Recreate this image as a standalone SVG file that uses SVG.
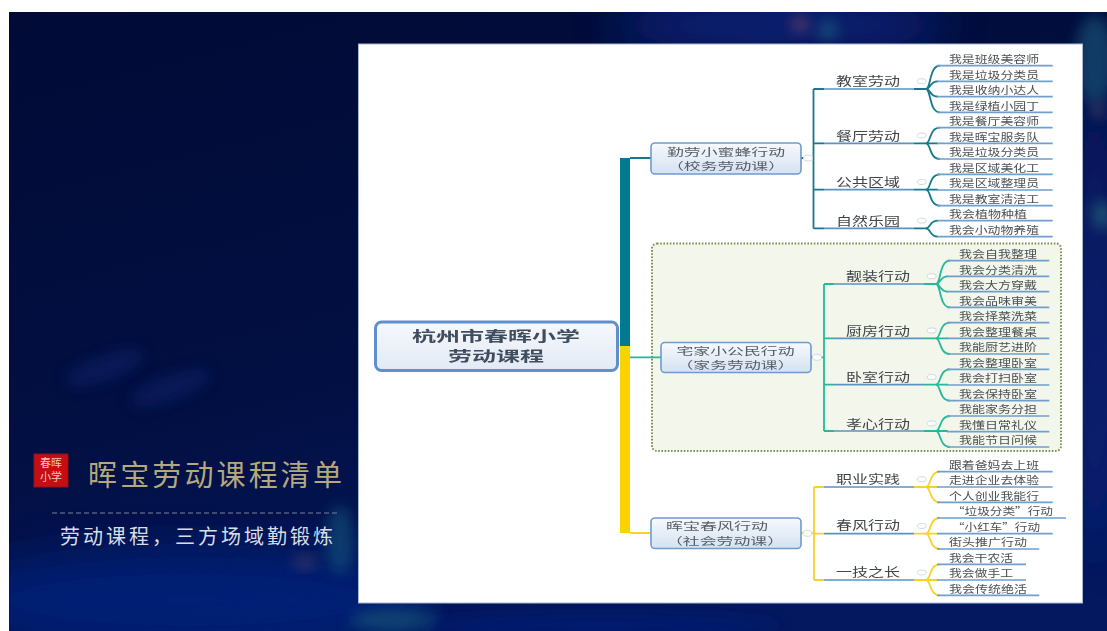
<svg xmlns="http://www.w3.org/2000/svg" width="1107" height="631" viewBox="0 0 1107 631">
<style>
text{font-family:"Noto Sans CJK SC","Noto Sans",sans-serif;}
.leaf{font-size:10.5px;fill:#4a4f55;}
.cat{font-size:12px;fill:#3f444a;}
.nd{font-size:10.2px;fill:#565c63;}
.rt{font-size:14px;font-weight:700;fill:#3f4d5e;}
.box{fill:url(#nodeFill);stroke:#6f9bce;stroke-width:1.6;}
.dot{fill:#fff;stroke:#cdd8de;stroke-width:1;}
.leafline{fill:none;stroke:#6f9fcd;stroke-width:1.7;}
.catline{fill:none;stroke:#5b93c2;stroke-width:1.7;}
.teal{fill:none;stroke:#14788a;stroke-width:1.8;}
.mint{fill:none;stroke:#25b89a;stroke-width:1.8;}
.gold{fill:none;stroke:#f6d327;stroke-width:1.8;}
</style>
<defs>
<linearGradient id="bg" x1="0" y1="0" x2="0.45" y2="1"><stop offset="0" stop-color="#010b36"/><stop offset="0.6" stop-color="#020f42"/><stop offset="1" stop-color="#03185e"/></linearGradient>
<linearGradient id="nodeFill" x1="0" y1="0" x2="0" y2="1"><stop offset="0" stop-color="#f7f9fd"/><stop offset="1" stop-color="#d4e2f2"/></linearGradient>
<linearGradient id="rootFill" x1="0" y1="0" x2="0" y2="1"><stop offset="0" stop-color="#f6f8fc"/><stop offset="1" stop-color="#e2eaf5"/></linearGradient>
<filter id="b30" x="-50%" y="-50%" width="200%" height="200%"><feGaussianBlur stdDeviation="22"/></filter>
<filter id="b8" x="-50%" y="-50%" width="200%" height="200%"><feGaussianBlur stdDeviation="7"/></filter>
<filter id="soft" x="-2%" y="-2%" width="104%" height="104%"><feGaussianBlur stdDeviation="0.35"/></filter>
</defs>
<rect width="1107" height="631" fill="#fff"/>
<svg x="9" y="12" width="1098" height="619" viewBox="9 12 1098 619">
<rect x="9" y="12" width="1098" height="619" fill="url(#bg)"/>
<g id="background-glow">
<ellipse cx="780" cy="25" rx="170" ry="28" fill="#082586" opacity="0.8" filter="url(#b30)"/>
<ellipse cx="1095" cy="320" rx="24" ry="240" fill="#08207a" opacity="0.8" filter="url(#b30)"/>
<ellipse cx="1095" cy="60" rx="20" ry="45" fill="#164f74" opacity="0.7" filter="url(#b8)"/>
<ellipse cx="1102" cy="215" rx="9" ry="14" fill="#267a80" opacity="0.6" filter="url(#b8)"/>
<ellipse cx="1098" cy="110" rx="8" ry="8" fill="#5a4a70" opacity="0.6" filter="url(#b8)"/>
<ellipse cx="800" cy="24" rx="8" ry="8" fill="#7a4868" opacity="0.7" filter="url(#b8)"/>
<ellipse cx="828" cy="30" rx="10" ry="10" fill="#1f6a80" opacity="0.6" filter="url(#b8)"/>
<ellipse cx="190" cy="600" rx="240" ry="50" fill="#05217e" opacity="0.8" filter="url(#b30)"/>
<ellipse cx="395" cy="620" rx="45" ry="12" fill="#145a78" opacity="0.6" filter="url(#b8)"/>
<ellipse cx="340" cy="540" rx="14" ry="34" fill="#155a80" opacity="0.55" filter="url(#b8)"/>
<ellipse cx="305" cy="562" rx="12" ry="6" fill="#5a4a6a" opacity="0.6" filter="url(#b8)"/>
<ellipse cx="105" cy="368" rx="42" ry="13" fill="#07216b" opacity="0.55" filter="url(#b8)" transform="rotate(-20 105 368)"/>
<ellipse cx="170" cy="388" rx="42" ry="13" fill="#07216b" opacity="0.55" filter="url(#b8)" transform="rotate(-20 170 388)"/>
<ellipse cx="600" cy="625" rx="180" ry="10" fill="#061d78" opacity="0.7" filter="url(#b8)"/>
</g>
</svg>
<g id="caption">
<rect x="34" y="454" width="34" height="33" fill="#c50d12" stroke="#8e1418" stroke-width="1"/>
<text x="51" y="467" font-size="11" fill="#f6c9c4" text-anchor="middle">春晖</text>
<text x="51" y="481" font-size="11" fill="#f6c9c4" text-anchor="middle">小学</text>
<text x="88" y="486" font-size="29" fill="#b5a87c" textLength="254" lengthAdjust="spacing">晖宝劳动课程清单</text>
<line x1="52" y1="513" x2="340" y2="513" stroke="#77829a" stroke-width="1" stroke-dasharray="5 3"/>
<text x="60" y="544" font-size="20" fill="#d8dde8" textLength="273" lengthAdjust="spacing">劳动课程，三方场域勤锻炼</text>
</g>
<rect id="panel" x="358.5" y="44" width="724" height="559" fill="#fff" stroke="#aab8d0" stroke-width="1"/>
<g filter="url(#soft)">
<rect id="home-region" x="652" y="243.5" width="409" height="207.5" rx="5" fill="#f3f6ea" stroke="#7f9350" stroke-width="2" stroke-dasharray="1.6 1.6"/>
<g id="connectors">
<rect x="620" y="158" width="10" height="188" fill="#047a90"/>
<rect x="620" y="346" width="10" height="187" fill="#fbd300"/>
<path class="teal" d="M630 158H651M801 158H813.5M813.5 89V228.5M813.5 89H824M813.5 143.3H824M813.5 189.7H824M813.5 228.3H824M914 89H927M914 143.3H927M914 189.7H927M914 228.3H927"/>
<path class="teal" d="M926 89C931 89 929 65.7 940 65.7M926 89C931 89 929 81.3 938 81.3M926 89C931 89 929 96.7 938 96.7M926 89C931 89 929 112.3 940 112.3M926 143.3C931 143.3 929 127.7 940 127.7M926 143.3H938M926 143.3C931 143.3 929 159 940 159M926 189.7C931 189.7 929 174.3 940 174.3M926 189.7H938M926 189.7C931 189.7 929 205.7 940 205.7M926 228.3C931 228.3 929 220.7 938 220.7M926 228.3C931 228.3 929 236.7 938 236.7"/>
<path class="mint" d="M630 357.3H661M811 357.3H824M824 284V431M824 284H834M824 338.3H834M824 384.7H834M824 431H834M924 284H937M924 338.3H937M924 384.7H937M924 431H937"/>
<path class="mint" d="M936 284C941 284 939 260.7 950 260.7M936 284C941 284 939 276.3 948 276.3M936 284C941 284 939 291.7 948 291.7M936 284C941 284 939 307.3 950 307.3M936 338.3C941 338.3 939 322.7 950 322.7M936 338.3H948M936 338.3C941 338.3 939 354 950 354M936 384.7C941 384.7 939 369.3 950 369.3M936 384.7H948M936 384.7C941 384.7 939 400.7 950 400.7M936 431C941 431 939 416 950 416M936 431H948M936 431C941 431 939 447 950 447"/>
<path class="gold" d="M630 533H651M801 533H814M814 487V580M814 487H824M814 533.7H824M814 580H824M914 487H927M914 533.7H927M914 580H927"/>
<path class="gold" d="M926 487C931 487 929 471.7 940 471.7M926 487H938M926 487C931 487 929 502.3 940 502.3M926 533.7C931 533.7 929 518 940 518M926 533.7H938M926 533.7C931 533.7 929 549 940 549M926 580C931 580 929 564.3 940 564.3M926 580H938M926 580C931 580 929 595.3 940 595.3"/>
<path class="catline" d="M824 89H914M824 143.3H914M824 189.7H914M824 228.3H914M834 284H924M834 338.3H924M834 384.7H924M834 431H924M824 487H914M824 533.7H914M824 580H914"/>
<path class="leafline" d="M937 65.7H1052.7M937 81.3H1052.7M937 96.7H1052.7M937 112.3H1052.7M937 127.7H1052.7M937 143.3H1052.7M937 159H1052.7M937 174.3H1052.7M937 190H1052.7M937 205.7H1052.7M937 220.7H1052.7M937 236.7H1052.7"/>
<path class="leafline" d="M947 260.7H1049.3M947 276.3H1049.3M947 291.7H1049.3M947 307.3H1049.3M947 322.7H1049.3M947 338.3H1049.3M947 354H1049.3M947 369.3H1049.3M947 385H1049.3M947 400.7H1049.3M947 416H1049.3M947 431.7H1049.3M947 447H1049.3"/>
<path class="leafline" d="M937 471.7H1052.7M937 487H1052.7M937 502.3H1052.7M937 518H1066M937 533.7H1052.7M937 549H1039.3M937 564.3H1026M937 580H1026M937 595.3H1039.3"/>
<g id="collapse-marks">
<ellipse class="dot" cx="808" cy="158" rx="4.5" ry="3"/><ellipse class="dot" cx="817" cy="357.3" rx="4.5" ry="3"/><ellipse class="dot" cx="807.5" cy="533.3" rx="4.5" ry="3"/>
<ellipse class="dot" cx="921.7" cy="81.3" rx="4.5" ry="2.5"/><ellipse class="dot" cx="921.7" cy="135.5" rx="4.5" ry="2.5"/><ellipse class="dot" cx="921.7" cy="182" rx="4.5" ry="2.5"/><ellipse class="dot" cx="921.7" cy="220.7" rx="4.5" ry="2.5"/>
<ellipse class="dot" cx="931.7" cy="276.3" rx="4.5" ry="2.5"/><ellipse class="dot" cx="931.7" cy="330.5" rx="4.5" ry="2.5"/><ellipse class="dot" cx="931.7" cy="377" rx="4.5" ry="2.5"/><ellipse class="dot" cx="931.7" cy="423.5" rx="4.5" ry="2.5"/>
<ellipse class="dot" cx="921.7" cy="479.3" rx="4.5" ry="2.5"/><ellipse class="dot" cx="921.7" cy="526" rx="4.5" ry="2.5"/><ellipse class="dot" cx="921.7" cy="572.5" rx="4.5" ry="2.5"/>
</g>
</g>
<g id="root"><rect x="375.5" y="322" width="242" height="48.5" rx="6" fill="url(#rootFill)" stroke="#5f90cc" stroke-width="3"/>
<text class="rt" x="412" y="341" textLength="168" lengthAdjust="spacingAndGlyphs">杭州市春晖小学</text><text class="rt" x="448" y="361" textLength="96" lengthAdjust="spacingAndGlyphs">劳动课程</text></g>
<g id="node-school"><rect class="box" x="651" y="143" width="150" height="31" rx="4"/>
<text class="nd" x="667" y="155.5" textLength="118" lengthAdjust="spacingAndGlyphs">勤劳小蜜蜂行动</text><text class="nd" x="667" y="170.3" textLength="118" lengthAdjust="spacingAndGlyphs">（校务劳动课）</text></g>
<g id="node-home"><rect class="box" x="661" y="342.5" width="150" height="30" rx="4"/>
<text class="nd" x="676.5" y="354.6" textLength="118" lengthAdjust="spacingAndGlyphs">宅家小公民行动</text><text class="nd" x="676.5" y="369.4" textLength="118" lengthAdjust="spacingAndGlyphs">（家务劳动课）</text></g>
<g id="node-social"><rect class="box" x="651" y="518" width="150" height="30.5" rx="4"/>
<text class="nd" x="666" y="530.2" textLength="102" lengthAdjust="spacingAndGlyphs">晖宝春风行动</text><text class="nd" x="666" y="545" textLength="118" lengthAdjust="spacingAndGlyphs">（社会劳动课）</text></g>
<g id="categories">
<g id="cat-1"><text class="cat" x="836" y="86" textLength="64" lengthAdjust="spacingAndGlyphs">教室劳动</text></g>
<g id="cat-2"><text class="cat" x="836" y="140.5" textLength="64" lengthAdjust="spacingAndGlyphs">餐厅劳动</text></g>
<g id="cat-3"><text class="cat" x="836" y="186.5" textLength="64" lengthAdjust="spacingAndGlyphs">公共区域</text></g>
<g id="cat-4"><text class="cat" x="836" y="225.5" textLength="64" lengthAdjust="spacingAndGlyphs">自然乐园</text></g>
<g id="cat-5"><text class="cat" x="846" y="280.8" textLength="64" lengthAdjust="spacingAndGlyphs">靓装行动</text></g>
<g id="cat-6"><text class="cat" x="846" y="335.5" textLength="64" lengthAdjust="spacingAndGlyphs">厨房行动</text></g>
<g id="cat-7"><text class="cat" x="846" y="381.8" textLength="64" lengthAdjust="spacingAndGlyphs">卧室行动</text></g>
<g id="cat-8"><text class="cat" x="846" y="428.5" textLength="64" lengthAdjust="spacingAndGlyphs">孝心行动</text></g>
<g id="cat-9"><text class="cat" x="836" y="483.8" textLength="64" lengthAdjust="spacingAndGlyphs">职业实践</text></g>
<g id="cat-10"><text class="cat" x="836" y="530.2" textLength="64" lengthAdjust="spacingAndGlyphs">春风行动</text></g>
<g id="cat-11"><text class="cat" x="836" y="576.8" textLength="64" lengthAdjust="spacingAndGlyphs">一技之长</text></g>
</g>
<g id="leaves">
<g id="leaf-1"><text class="leaf" x="949" y="63" textLength="90" lengthAdjust="spacingAndGlyphs">我是班级美容师</text></g>
<g id="leaf-2"><text class="leaf" x="949" y="78.6" textLength="90" lengthAdjust="spacingAndGlyphs">我是垃圾分类员</text></g>
<g id="leaf-3"><text class="leaf" x="949" y="94" textLength="90" lengthAdjust="spacingAndGlyphs">我是收纳小达人</text></g>
<g id="leaf-4"><text class="leaf" x="949" y="109.6" textLength="90" lengthAdjust="spacingAndGlyphs">我是绿植小园丁</text></g>
<g id="leaf-5"><text class="leaf" x="949" y="125" textLength="90" lengthAdjust="spacingAndGlyphs">我是餐厅美容师</text></g>
<g id="leaf-6"><text class="leaf" x="949" y="140.6" textLength="90" lengthAdjust="spacingAndGlyphs">我是晖宝服务队</text></g>
<g id="leaf-7"><text class="leaf" x="949" y="156.3" textLength="90" lengthAdjust="spacingAndGlyphs">我是垃圾分类员</text></g>
<g id="leaf-8"><text class="leaf" x="949" y="171.6" textLength="90" lengthAdjust="spacingAndGlyphs">我是区域美化工</text></g>
<g id="leaf-9"><text class="leaf" x="949" y="187.3" textLength="90" lengthAdjust="spacingAndGlyphs">我是区域整理员</text></g>
<g id="leaf-10"><text class="leaf" x="949" y="203" textLength="90" lengthAdjust="spacingAndGlyphs">我是教室清洁工</text></g>
<g id="leaf-11"><text class="leaf" x="949" y="218" textLength="78" lengthAdjust="spacingAndGlyphs">我会植物种植</text></g>
<g id="leaf-12"><text class="leaf" x="949" y="234" textLength="90" lengthAdjust="spacingAndGlyphs">我会小动物养殖</text></g>
<g id="leaf-13"><text class="leaf" x="959" y="258" textLength="78" lengthAdjust="spacingAndGlyphs">我会自我整理</text></g>
<g id="leaf-14"><text class="leaf" x="959" y="273.6" textLength="78" lengthAdjust="spacingAndGlyphs">我会分类清洗</text></g>
<g id="leaf-15"><text class="leaf" x="959" y="289" textLength="78" lengthAdjust="spacingAndGlyphs">我会大方穿戴</text></g>
<g id="leaf-16"><text class="leaf" x="959" y="304.6" textLength="78" lengthAdjust="spacingAndGlyphs">我会品味审美</text></g>
<g id="leaf-17"><text class="leaf" x="959" y="320" textLength="78" lengthAdjust="spacingAndGlyphs">我会择菜洗菜</text></g>
<g id="leaf-18"><text class="leaf" x="959" y="335.6" textLength="78" lengthAdjust="spacingAndGlyphs">我会整理餐桌</text></g>
<g id="leaf-19"><text class="leaf" x="959" y="351.3" textLength="78" lengthAdjust="spacingAndGlyphs">我能厨艺进阶</text></g>
<g id="leaf-20"><text class="leaf" x="959" y="366.6" textLength="78" lengthAdjust="spacingAndGlyphs">我会整理卧室</text></g>
<g id="leaf-21"><text class="leaf" x="959" y="382.3" textLength="78" lengthAdjust="spacingAndGlyphs">我会打扫卧室</text></g>
<g id="leaf-22"><text class="leaf" x="959" y="398" textLength="78" lengthAdjust="spacingAndGlyphs">我会保持卧室</text></g>
<g id="leaf-23"><text class="leaf" x="959" y="413.3" textLength="78" lengthAdjust="spacingAndGlyphs">我能家务分担</text></g>
<g id="leaf-24"><text class="leaf" x="959" y="429" textLength="78" lengthAdjust="spacingAndGlyphs">我懂日常礼仪</text></g>
<g id="leaf-25"><text class="leaf" x="959" y="444.3" textLength="78" lengthAdjust="spacingAndGlyphs">我能节日问候</text></g>
<g id="leaf-26"><text class="leaf" x="949" y="469" textLength="90" lengthAdjust="spacingAndGlyphs">跟着爸妈去上班</text></g>
<g id="leaf-27"><text class="leaf" x="949" y="484.3" textLength="90" lengthAdjust="spacingAndGlyphs">走进企业去体验</text></g>
<g id="leaf-28"><text class="leaf" x="949" y="499.6" textLength="90" lengthAdjust="spacingAndGlyphs">个人创业我能行</text></g>
<g id="leaf-29"><text class="leaf" x="952" y="515.3" textLength="101" lengthAdjust="spacingAndGlyphs">“垃圾分类”行动</text></g>
<g id="leaf-30"><text class="leaf" x="952" y="531" textLength="88" lengthAdjust="spacingAndGlyphs">“小红车”行动</text></g>
<g id="leaf-31"><text class="leaf" x="949" y="546.3" textLength="78" lengthAdjust="spacingAndGlyphs">街头推广行动</text></g>
<g id="leaf-32"><text class="leaf" x="949" y="561.6" textLength="64" lengthAdjust="spacingAndGlyphs">我会干农活</text></g>
<g id="leaf-33"><text class="leaf" x="949" y="577.3" textLength="64" lengthAdjust="spacingAndGlyphs">我会做手工</text></g>
<g id="leaf-34"><text class="leaf" x="949" y="592.6" textLength="78" lengthAdjust="spacingAndGlyphs">我会传统绝活</text></g>
</g>
</g>
</svg>
